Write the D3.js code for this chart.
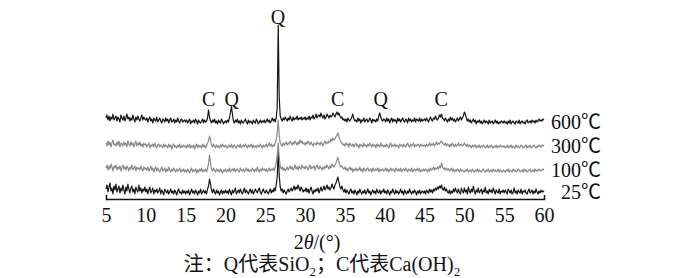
<!DOCTYPE html>
<html>
<head>
<meta charset="utf-8">
<script src="https://cdn.jsdelivr.net/npm/d3@7"></script>
<style>
  body { margin: 0; background: #fff; }
  svg text { font-family: "Liberation Serif", "Times New Roman", "Noto Sans CJK SC", serif; }
</style>
</head>
<body>
<svg id="chart" width="700" height="278"></svg>
<script>
// 2θ grid: 5° to 60° in 0.125° steps
const thetaStart = 5;
const thetaStep = 0.125;

// intensities (a.u.) above each trace's own zero, one row per 5°
const xrd25 = [
  8,12,5,10,14,6,9,3,11,7,13,5,8,11,4,9,6,12,7,3,10,6,13,8,4,9,11,5,8,3,10,7,5,12,6,9,4,8,6,10,
  5,8,3,7,10,4,6,9,3,7,5,8,4,6,9,3,7,5,2,8,6,4,7,3,5,8,4,6,3,7,5,2,6,8,4,5,3,7,4,6,
  3,6,4,7,2,5,8,4,6,3,7,5,2,6,4,8,3,5,7,4,6,3,8,11,18,13,7,4,8,5,3,7,4,6,2,5,7,3,6,4,
  7,4,6,3,8,5,2,7,4,6,9,3,5,7,4,8,5,3,6,9,4,7,5,3,6,8,4,7,3,5,8,6,4,7,9,5,3,6,8,5,
  4,7,5,3,6,8,4,7,5,9,6,12,20,46,22,10,6,8,4,7,5,3,6,8,5,7,9,6,8,11,7,10,8,12,9,6,10,8,5,7,
  6,9,5,8,4,7,10,6,3,7,5,8,6,9,4,7,10,6,8,11,7,9,12,8,10,7,9,13,10,8,12,14,17,20,15,10,8,11,7,5,
  8,4,7,5,3,6,8,4,6,3,7,5,2,6,4,8,5,3,6,4,7,3,5,8,4,6,2,5,7,4,6,3,8,5,4,7,3,6,5,8,
  4,6,3,7,5,2,6,4,8,5,3,7,4,6,3,5,8,4,6,2,7,5,3,6,4,8,5,3,6,4,7,5,2,6,4,7,3,5,6,4,
  6,3,7,5,4,8,5,7,4,8,6,9,7,10,8,11,9,12,8,7,10,6,8,5,4,7,3,6,4,8,5,9,6,4,8,5,3,9,6,4,
  9,5,7,3,10,6,4,8,5,11,6,3,7,5,9,4,6,8,3,7,5,10,4,6,3,8,5,7,4,9,6,3,7,5,4,8,3,6,5,7,
  4,7,5,3,8,6,4,7,3,5,9,4,6,3,7,5,4,8,3,6,5,7,4,3,6,8,4,5,7,3,6,4,8,5,3,6,4,7,5,6,
  5
];
const xrd100 = [
  7,10,5,9,6,11,8,4,9,7,10,5,8,6,9,4,7,10,6,8,5,9,7,4,8,6,10,5,7,9,4,8,6,7,5,9,6,4,8,6,
  7,5,8,4,6,9,5,7,3,6,8,4,7,5,3,6,8,4,5,7,3,6,4,8,5,3,6,4,7,5,3,6,4,5,7,3,5,4,6,3,
  5,3,6,4,2,5,7,3,5,4,6,2,5,3,6,4,7,3,5,4,6,3,7,11,20,12,6,4,7,5,3,6,4,5,3,6,4,2,5,4,
  6,3,5,4,7,3,5,6,4,7,3,5,6,4,3,7,5,4,6,3,5,7,4,6,3,5,4,7,5,3,6,4,8,5,3,6,4,7,5,6,
  4,6,3,5,7,4,6,5,7,4,8,12,20,32,18,9,6,8,5,7,4,6,8,5,7,9,6,8,5,7,10,6,8,5,9,7,6,10,7,8,
  6,9,7,5,8,10,6,8,7,9,5,8,10,7,6,9,7,5,8,6,9,7,10,8,6,9,7,11,9,8,10,12,15,18,13,10,8,9,7,6,
  8,5,7,4,6,8,5,7,3,6,5,7,4,6,5,8,4,6,3,7,5,4,6,7,4,5,6,3,7,5,4,6,5,7,3,6,4,5,6,4,
  5,7,4,6,3,5,7,4,6,5,3,7,5,4,6,4,7,3,5,6,4,7,5,3,6,5,4,7,3,5,6,4,5,7,4,6,3,5,4,6,
  4,6,5,3,6,4,7,5,6,8,5,7,6,8,6,9,7,12,8,6,7,5,7,5,6,4,5,7,4,6,3,5,4,6,5,3,6,4,5,4,
  3,5,4,6,3,4,5,3,6,4,3,5,4,6,3,5,4,3,5,6,4,3,5,4,6,3,4,5,3,6,4,5,3,4,6,3,5,4,3,5,
  4,3,5,4,6,3,5,4,3,6,4,5,3,4,6,5,3,4,5,3,6,4,5,3,4,5,6,3,4,5,3,6,4,5,4,6,5,4,5,6,
  5
];
const xrd300 = [
  8,5,10,6,9,4,8,11,6,7,5,9,6,10,4,8,7,5,9,6,8,4,10,7,5,9,6,8,4,7,10,5,8,6,9,5,7,4,8,6,
  7,4,6,8,3,6,5,7,4,8,5,3,6,7,4,6,5,3,7,4,6,5,3,7,4,6,2,5,7,4,5,3,6,4,7,3,5,4,6,4,
  5,3,6,4,7,3,5,4,6,2,5,7,3,6,4,5,3,7,4,6,3,5,8,10,15,11,6,4,7,5,3,6,4,5,3,6,4,7,5,4,
  6,4,3,6,5,4,7,3,5,6,4,3,6,5,4,7,3,5,6,4,7,5,3,6,4,5,7,3,6,4,5,3,6,5,4,7,5,3,6,4,
  5,7,4,6,8,5,7,4,6,5,8,11,18,31,16,8,6,5,8,6,7,9,6,8,7,10,8,6,9,7,10,8,6,9,7,11,8,10,7,8,
  6,9,7,10,8,6,9,7,5,8,7,6,9,7,8,6,9,7,5,8,10,7,9,8,10,9,12,10,13,11,12,14,16,18,14,11,9,8,6,7,
  5,8,6,7,4,8,6,5,7,4,6,8,5,6,3,7,5,6,4,8,5,6,4,7,5,8,6,4,7,5,6,3,7,5,6,4,8,5,6,4,
  6,4,7,5,3,6,8,4,6,5,7,4,6,5,3,7,5,6,4,7,5,4,6,8,5,4,7,5,6,8,4,6,5,7,6,4,7,5,6,5,
  6,4,7,5,6,8,5,7,6,8,5,7,9,6,8,7,9,10,8,7,6,8,5,7,6,4,7,5,8,6,4,7,5,6,8,5,6,7,5,6,
  8,6,5,7,4,6,5,3,6,4,5,6,3,5,4,6,3,5,4,6,5,3,4,6,3,5,4,6,4,3,5,4,6,3,5,4,6,4,5,4,
  5,3,4,6,3,5,4,6,3,5,4,3,6,4,5,3,4,6,5,3,4,5,6,3,5,4,6,3,4,5,6,4,3,5,4,6,5,4,6,5,
  6
];
const xrd600 = [
  9,12,7,11,6,10,8,13,7,9,11,6,10,8,5,12,9,7,11,6,9,13,8,10,6,9,7,12,8,5,10,7,11,8,6,9,12,7,10,8,
  7,9,5,8,10,6,8,4,9,7,6,10,5,7,9,6,4,8,7,5,9,6,8,4,7,9,5,6,8,4,7,5,9,6,4,7,8,5,6,7,
  5,7,4,6,8,3,6,5,7,4,8,6,3,7,5,4,6,8,4,7,5,6,9,17,10,6,4,7,5,8,4,6,3,7,5,4,8,6,3,5,
  6,4,7,5,9,14,21,13,6,4,7,5,8,4,6,3,7,5,4,6,8,5,3,7,4,6,5,3,7,5,4,8,6,3,5,7,4,6,5,7,
  4,6,8,5,7,4,6,9,6,8,5,9,20,102,30,11,8,6,9,7,10,8,6,9,7,11,8,6,10,7,9,8,11,7,9,8,10,7,9,8,
  10,7,9,8,11,7,10,9,12,8,10,13,9,11,12,10,14,11,9,12,8,10,13,11,9,12,10,11,14,12,10,13,15,12,14,11,9,10,7,8,
  6,8,5,9,7,6,8,10,13,8,6,7,5,9,6,8,4,7,6,9,5,7,8,5,6,9,7,4,8,6,7,5,8,6,11,14,10,7,6,8,
  7,5,9,6,8,4,7,9,5,8,6,7,4,9,6,8,5,7,9,6,5,8,7,4,9,6,8,5,7,6,9,5,8,7,6,9,5,8,6,7,
  8,6,9,7,5,8,10,7,6,9,8,11,8,7,9,12,10,13,9,8,6,9,7,5,8,6,10,7,9,6,8,5,7,9,6,8,10,7,9,11,
  15,13,9,6,8,5,7,4,6,8,5,7,3,6,5,7,4,6,3,5,7,4,6,5,3,7,4,5,6,3,5,7,4,6,3,5,4,6,5,4,
  6,4,5,3,6,4,7,3,5,6,4,3,6,5,4,7,3,5,6,4,5,3,6,7,4,5,6,4,7,5,6,4,7,5,6,8,6,7,6,8,
  7
];

const seriesNames = ["25℃", "100℃", "300℃", "600℃"];
const seriesData = [xrd25, xrd100, xrd300, xrd600];
const seriesOffsets = [2, 24, 48, 72];
const seriesColors = ["#161616", "#8a8a8a", "#8a8a8a", "#161616"];

const peakAngles = [26.6, 17.9, 20.8, 34.1, 39.5, 47.1];
const peakPhases = ["Q", "C", "Q", "C", "Q", "C"];
const peakLabelLevels = [175, 93, 93, 93, 93, 93];

const xTicks = [5, 10, 15, 20, 25, 30, 35, 40, 45, 50, 55, 60];

const svg = d3.select("#chart");
const margin = { left: 106, right: 156, top: 19, bottom: 79 };
const width = 700, height = 278;

const x = d3.scaleLinear().domain([5, 60]).range([margin.left, width - margin.right]);
const y = d3.scaleLinear().domain([0, 180]).range([height - margin.bottom, margin.top]);

const line = d3.line()
  .x((d) => x(d[0]))
  .y((d) => y(d[1]));

seriesData.forEach((vals, si) => {
  const pts = vals.map((v, i) => [thetaStart + i * thetaStep, v + seriesOffsets[si]]);
  svg.append("path")
    .datum(pts)
    .attr("fill", "none")
    .attr("stroke", seriesColors[si])
    .attr("stroke-width", 1.2)
    .attr("stroke-linejoin", "round")
    .attr("d", line);

  svg.append("text")
    .attr("x", x(60) + 57)
    .attr("y", y(seriesOffsets[si] - 2))
    .attr("text-anchor", "end")
    .attr("font-size", 20)
    .attr("fill", "#111")
    .text(seriesNames[si]);
});

svg.selectAll("text.peak")
  .data(peakAngles)
  .join("text")
  .attr("class", "peak")
  .attr("x", (d) => x(d))
  .attr("y", (d, i) => y(peakLabelLevels[i]))
  .attr("text-anchor", "middle")
  .attr("font-size", 20)
  .attr("fill", "#111")
  .text((d, i) => peakPhases[i]);

const axis = svg.append("g")
  .attr("transform", `translate(0,${y(0)})`)
  .call(d3.axisBottom(x).tickValues(xTicks).tickSizeInner(0).tickSizeOuter(-4).tickPadding(9).tickFormat(d3.format("d")));
axis.attr("font-family", null);
axis.select(".domain").attr("stroke", "#111").attr("stroke-width", 1.5);
axis.selectAll(".tick text")
  .attr("font-size", 20)
  .attr("fill", "#111");

const xTitle = svg.append("text")
  .attr("x", 317)
  .attr("y", 249)
  .attr("text-anchor", "middle")
  .attr("font-size", 20)
  .attr("fill", "#111");
xTitle.append("tspan").text("2");
xTitle.append("tspan").attr("font-style", "italic").text("θ");
xTitle.append("tspan").text("/(°)");

const note = svg.append("text")
  .attr("x", 322)
  .attr("y", 271)
  .attr("text-anchor", "middle")
  .attr("font-size", 20)
  .attr("fill", "#111");
note.append("tspan").text("注：Q代表SiO");
note.append("tspan").attr("font-size", 13).attr("dy", 5).text("2");
note.append("tspan").attr("dy", -5).text("；C代表Ca(OH)");
note.append("tspan").attr("font-size", 13).attr("dy", 5).text("2");
</script>
</body>
</html>
